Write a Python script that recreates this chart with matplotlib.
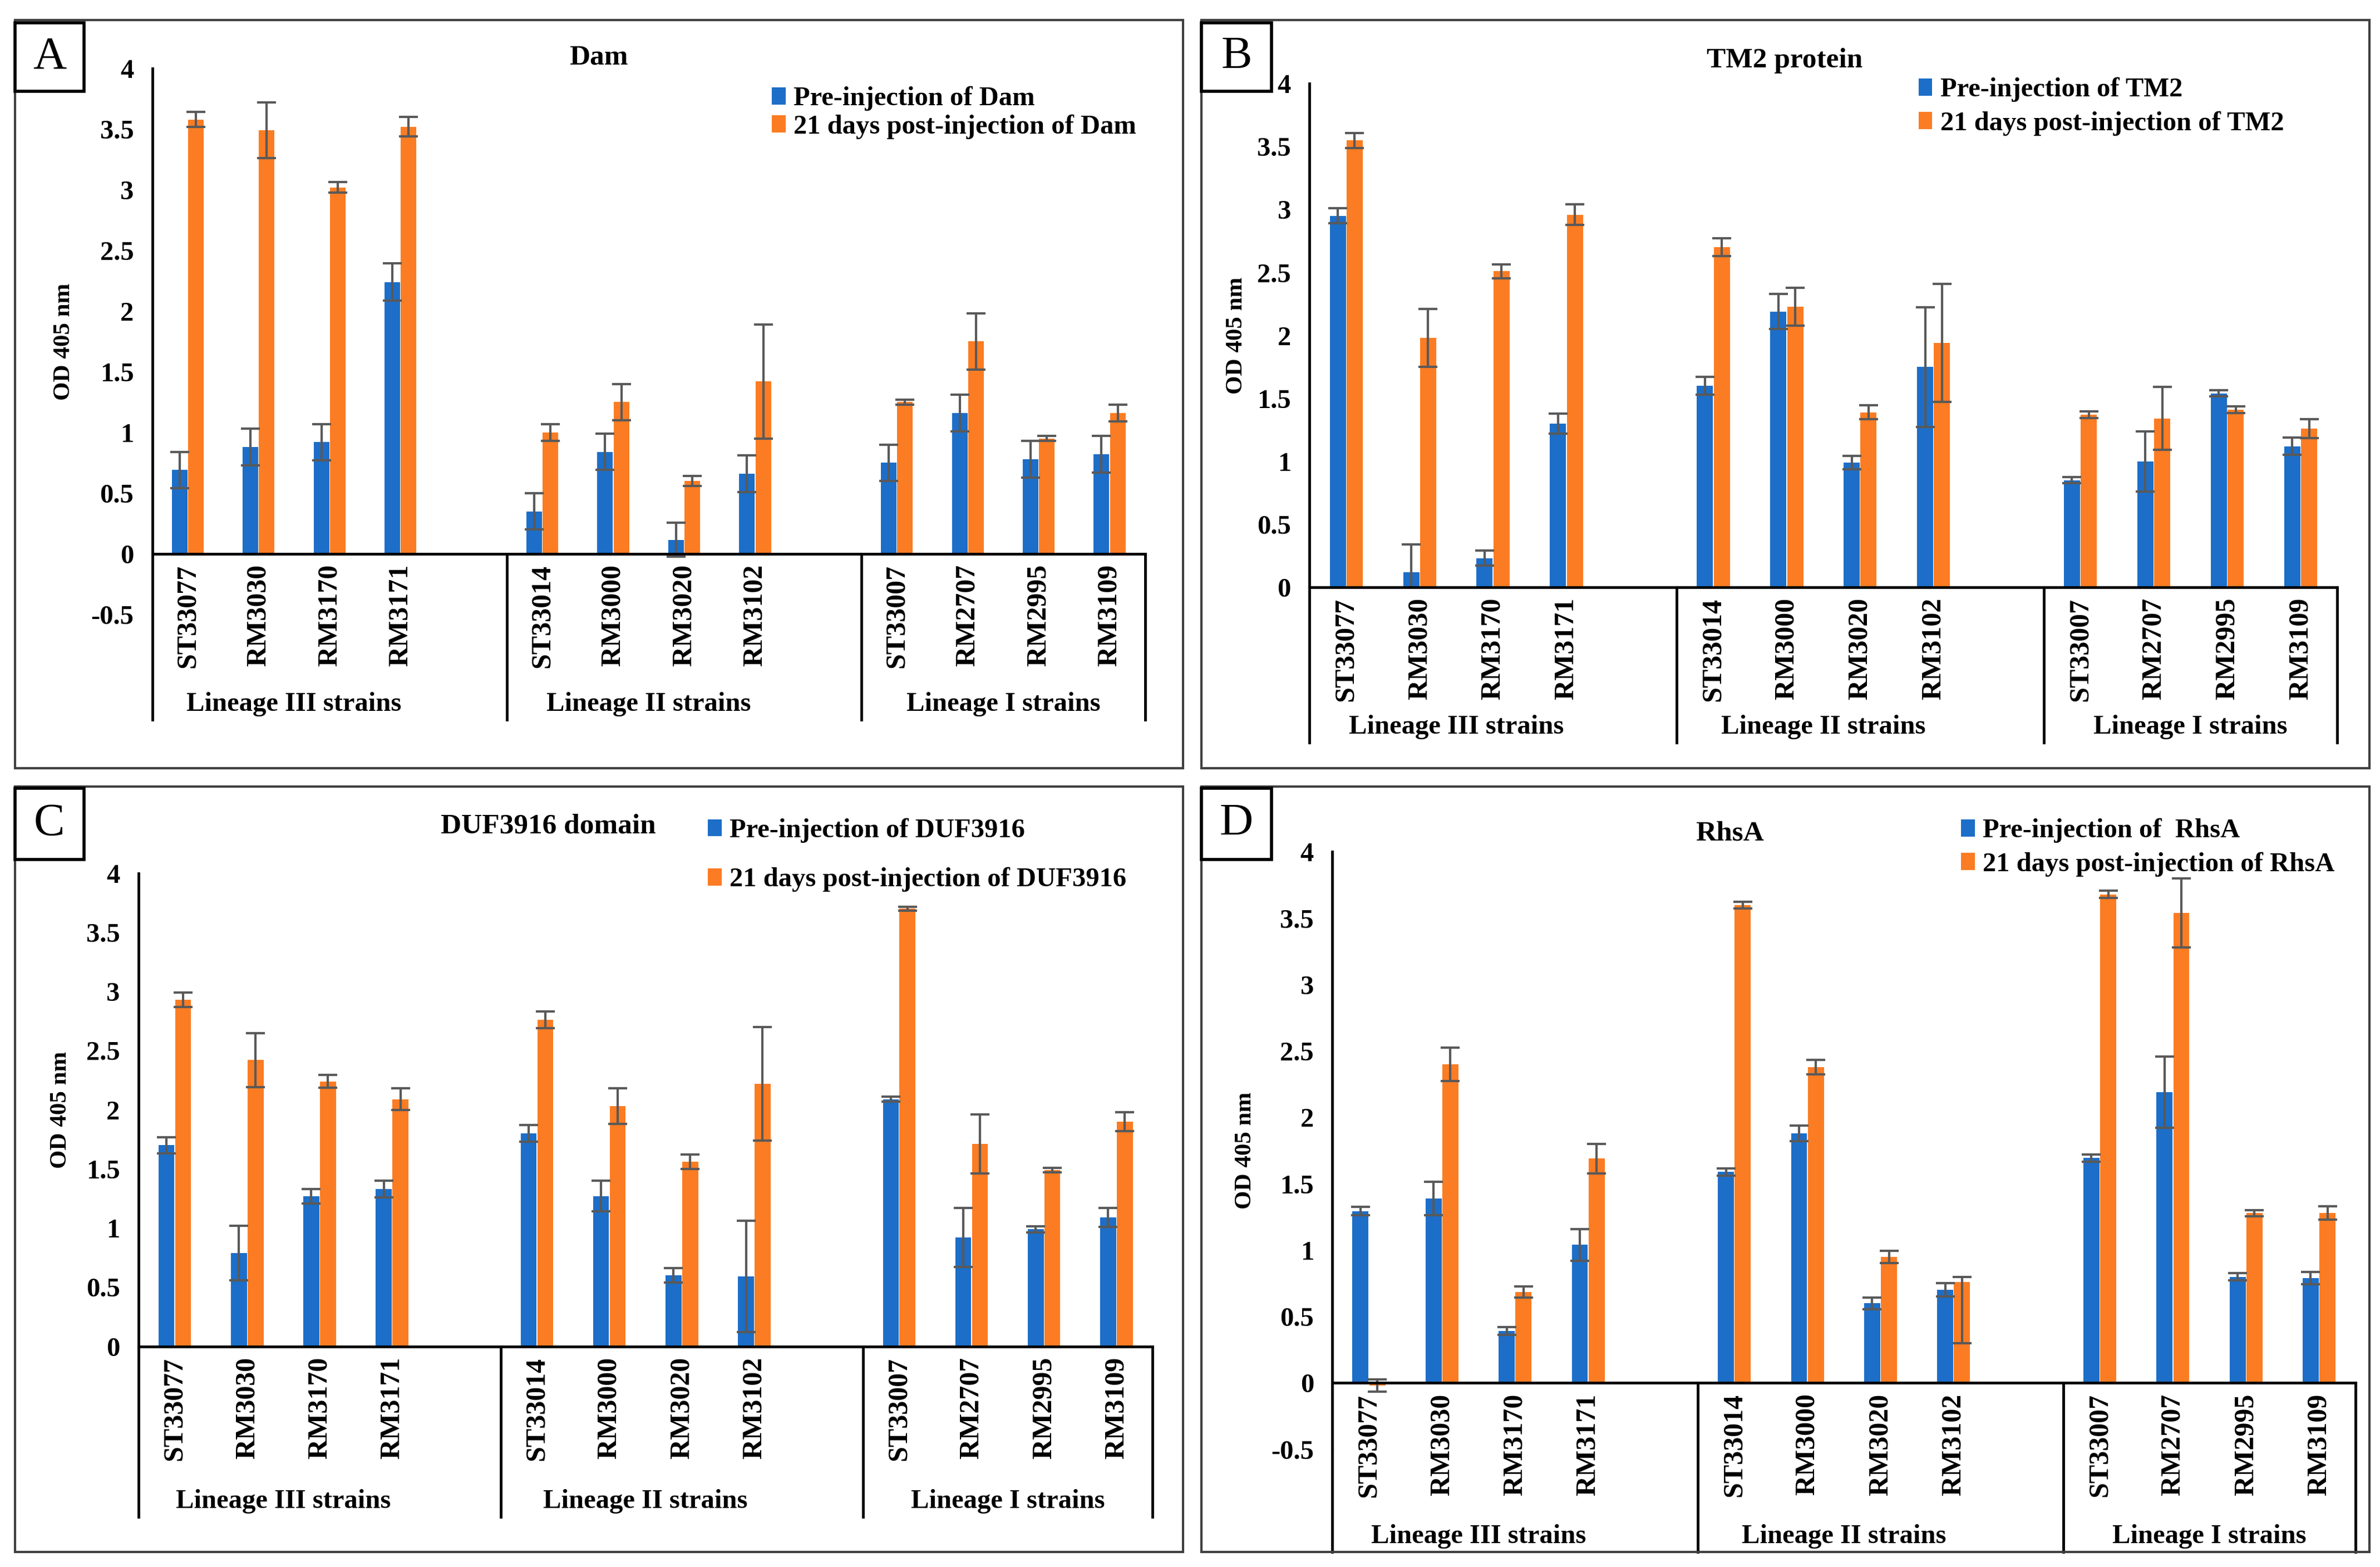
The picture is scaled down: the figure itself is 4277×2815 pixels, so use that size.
import numpy as np
import matplotlib
matplotlib.use('Agg')
import matplotlib.pyplot as plt
from matplotlib.patches import Rectangle

plt.rcParams['font.family'] = ['Liberation Serif', 'DejaVu Serif']

# data
strains = ['ST33077', 'RM3030', 'RM3170', 'RM3171',
           'ST33014', 'RM3000', 'RM3020', 'RM3102',
           'ST33007', 'RM2707', 'RM2995', 'RM3109']
lineages = ['Lineage III strains', 'Lineage II strains', 'Lineage I strains']

dam_pre = [0.69, 0.88, 0.92, 2.24, 0.35, 0.84, 0.115, 0.66, 0.75, 1.16, 0.78, 0.82]
dam_pre_err = [0.15, 0.15, 0.15, 0.155, 0.15, 0.15, 0.14, 0.15, 0.15, 0.15, 0.15, 0.15]
dam_post = [3.58, 3.49, 3.02, 3.52, 1.0, 1.25, 0.60, 1.42, 1.25, 1.75, 0.95, 1.16]
dam_post_err = [0.06, 0.23, 0.045, 0.08, 0.07, 0.15, 0.04, 0.47, 0.02, 0.23, 0.02, 0.07]

tm2_pre = [2.95, 0.12, 0.23, 1.30, 1.60, 2.19, 0.99, 1.75, 0.85, 1.0, 1.54, 1.12]
tm2_pre_err = [0.06, 0.22, 0.06, 0.08, 0.07, 0.14, 0.055, 0.475, 0.025, 0.24, 0.025, 0.07]
tm2_post = [3.55, 1.98, 2.51, 2.96, 2.70, 2.23, 1.39, 1.94, 1.37, 1.34, 1.41, 1.26]
tm2_post_err = [0.06, 0.23, 0.055, 0.08, 0.07, 0.15, 0.055, 0.47, 0.025, 0.25, 0.025, 0.075]

duf_pre = [1.70, 0.79, 1.27, 1.33, 1.80, 1.27, 0.60, 0.59, 2.09, 0.92, 0.99, 1.09]
duf_pre_err = [0.07, 0.23, 0.06, 0.07, 0.07, 0.13, 0.06, 0.47, 0.02, 0.25, 0.025, 0.08]
duf_post = [2.93, 2.42, 2.24, 2.09, 2.76, 2.03, 1.56, 2.22, 3.70, 1.71, 1.49, 1.90]
duf_post_err = [0.06, 0.23, 0.055, 0.09, 0.07, 0.15, 0.06, 0.48, 0.015, 0.25, 0.02, 0.08]

rhsa_pre = [1.295, 1.39, 0.39, 1.04, 1.59, 1.88, 0.60, 0.70, 1.695, 2.19, 0.80, 0.79]
rhsa_pre_err = [0.03, 0.125, 0.03, 0.12, 0.027, 0.06, 0.045, 0.05, 0.027, 0.27, 0.027, 0.045]
rhsa_post = [-0.02, 2.40, 0.685, 1.69, 3.60, 2.38, 0.95, 0.76, 3.68, 3.54, 1.28, 1.28]
rhsa_post_err_lo = [0.045, 0.125, 0.04, 0.11, 0.025, 0.055, 0.045, 0.46, 0.027, 0.26, 0.023, 0.05]
rhsa_post_err_hi = [0.045, 0.125, 0.04, 0.11, 0.025, 0.055, 0.045, 0.04, 0.027, 0.26, 0.023, 0.05]

BLUE = '#1C6EC8'
ORANGE = '#FB7C23'
ERR = '#595959'

W, H = 1563.0, 1030.0   # layout measured on a 1563 px wide copy


def fx(px):
    return px / W


def fy(py):
    return 1 - py / H


fig = plt.figure(figsize=(42.77, 28.15), dpi=100)


def panel(letter, frame, box, left, right, y4, y0, ymin, tb, gl,
          pre, pre_err, post, post_err, title, title_xy,
          leg_labels, leg_xy, leg_space, ylab_x):
    # frame and letter box
    fig.patches.append(Rectangle((fx(frame[0]), fy(frame[3])), fx(frame[2] - frame[0]),
                                 (frame[3] - frame[1]) / H, transform=fig.transFigure,
                                 fill=False, ec='#404040', lw=3))
    fig.patches.append(Rectangle((fx(box[0]), fy(box[3])), fx(box[2] - box[0]),
                                 (box[3] - box[1]) / H, transform=fig.transFigure,
                                 fill=False, ec='black', lw=4))
    fig.text(fx((box[0] + box[2]) / 2), fy((box[1] + box[3]) / 2), letter,
             ha='center', va='center', fontsize=60)

    unit = (y0 - y4) / 4.0
    ybot = y0 - ymin * unit
    ax = fig.add_axes([fx(left), fy(ybot), fx(right - left), (ybot - y4) / H])
    ax.set_xlim(0, 14)
    ax.set_ylim(ymin, 4)

    slots = []
    for g in range(3):
        for i in range(4):
            slots.append(g * 5 + i + 0.5)
    x = np.array(slots)
    ekw = dict(ecolor=ERR, elinewidth=3, capsize=12, capthick=3)
    b1 = ax.bar(x - 0.115, pre, 0.22, yerr=pre_err, color=BLUE, error_kw=ekw, zorder=2)
    b2 = ax.bar(x + 0.115, post, 0.22, yerr=post_err, color=ORANGE, error_kw=ekw, zorder=2)

    for s in ['top', 'right']:
        ax.spines[s].set_visible(False)
    ax.spines['bottom'].set_position(('data', 0))
    ax.spines['bottom'].set_linewidth(3.5)
    ax.spines['bottom'].set_zorder(3)
    ax.spines['left'].set_linewidth(3.5)
    ax.set_xticks([])
    ticks = np.arange(ymin, 4.01, 0.5)
    ax.set_yticks(ticks)
    ax.set_yticklabels([f'{t:g}' for t in ticks])
    ax.tick_params(axis='y', length=0, pad=24, labelsize=35)
    for lab in ax.get_yticklabels():
        lab.set_fontweight('bold')

    def dy(py):
        return (y0 - py) / unit

    # category table below the axis
    ax.plot([0, 0], [ymin, dy(tb)], color='black', lw=3.5, clip_on=False)
    for xs in [5, 10, 14]:
        ax.plot([xs, xs], [0, dy(tb)], color='black', lw=3.5, clip_on=False)
    for xi, name in zip(x, strains):
        ax.text(xi, dy(y0 + 7), name, rotation=90, ha='center', va='top',
                fontsize=36, fontweight='bold', clip_on=False)
    for g, name in enumerate(lineages):
        cx = g * 5 + 2.0
        ax.text(cx, dy(gl), name, ha='center', va='center', fontsize=35,
                fontweight='bold', clip_on=False)

    fig.text(fx(title_xy[0]), fy(title_xy[1]), title, ha='center', va='center',
             fontsize=37, fontweight='bold')
    fig.text(fx(ylab_x), fy((y4 + ybot) / 2), 'OD 405 nm', rotation=90,
             ha='center', va='center', fontsize=31, fontweight='bold')
    fig.legend([b1, b2], leg_labels, loc='center left',
               bbox_to_anchor=(fx(leg_xy[0]), fy(leg_xy[1])), frameon=False,
               prop=dict(size=35, weight='bold'), handlelength=0.5, handleheight=0.6,
               handletextpad=0.3, borderpad=0, borderaxespad=0, labelspacing=leg_space)
    return ax


panel('A', (10, 13, 777, 505), (10, 15, 55, 60), 100, 752, 45, 364, -0.5, 473, 463,
      dam_pre, dam_pre_err, dam_post, dam_post_err, 'Dam', (393, 38),
      ['Pre-injection of Dam', '21 days post-injection of Dam'], (507, 74), 0.12, 42)

panel('B', (789, 13, 1556, 505), (789, 15, 835, 60), 860, 1535, 55, 386, 0, 488, 478,
      tm2_pre, tm2_pre_err, tm2_post, tm2_post_err, 'TM2 protein', (1172, 40),
      ['Pre-injection of TM2', '21 days post-injection of TM2'], (1260, 70), 0.33, 812)

panel('C', (10, 517, 777, 1020), (10, 518, 55, 565), 91, 757, 574, 885, 0, 997, 987,
      duf_pre, duf_pre_err, duf_post, duf_post_err, 'DUF3916 domain', (360, 543),
      ['Pre-injection of DUF3916', '21 days post-injection of DUF3916'], (465, 562), 0.9, 40)

panel('D', (789, 517, 1556, 1020), (789, 518, 835, 565), 875, 1547, 560, 909, -0.5, 1020, 1010,
      rhsa_pre, rhsa_pre_err, rhsa_post, [rhsa_post_err_lo, rhsa_post_err_hi], 'RhsA', (1136, 548),
      ['Pre-injection of  RhsA', '21 days post-injection of RhsA'], (1288, 557), 0.33, 818)

fig.savefig('out.png', dpi=100)
